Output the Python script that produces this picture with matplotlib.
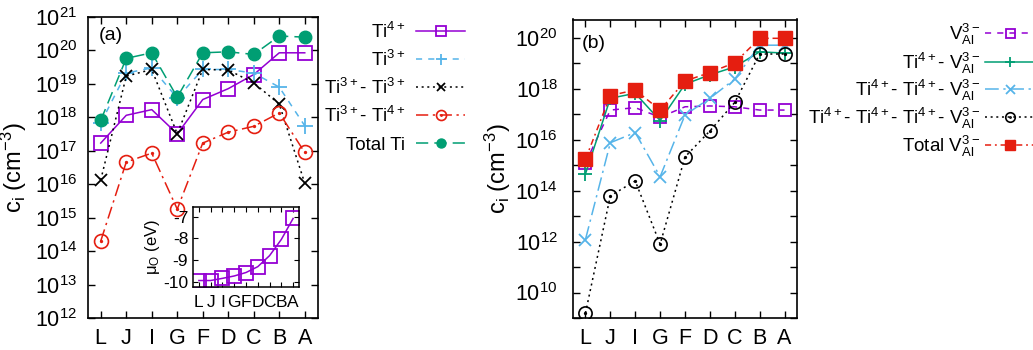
import matplotlib
matplotlib.use('Agg')
import matplotlib.pyplot as plt
import numpy as np
from matplotlib.lines import Line2D
from matplotlib.path import Path
from matplotlib.ticker import NullFormatter

plt.rcParams['font.family'] = ['Liberation Sans', 'DejaVu Sans']
plt.rcParams['mathtext.fontset'] = 'custom'
plt.rcParams['mathtext.rm'] = 'Liberation Sans'
plt.rcParams['mathtext.it'] = 'Liberation Sans:italic'
plt.rcParams['mathtext.default'] = 'regular'

# oxygen chemical potential points, left to right
points = ['L', 'J', 'I', 'G', 'F', 'D', 'C', 'B', 'A']
mu_O = [-9.95, -9.95, -9.85, -9.74, -9.58, -9.31, -8.80, -8.05, -7.08]

# (a) Ti concentrations (cm^-3)
ti4 = [1.7e17, 1.15e18, 1.7e18, 3.2e17, 3.4e18, 7.2e18, 1.9e19, 8.5e19, 8.5e19]
ti3 = [6.8e17, 2.1e19, 3.0e19, 3.8e18, 2.7e19, 2.7e19, 2.1e19, 8.0e18, 5.6e17]
ti3_ti3 = [1.35e16, 1.7e19, 2.7e19, 3.2e17, 2.7e19, 2.6e19, 1.07e19, 2.5e18, 1.07e16]
ti3_ti4 = [2.0e14, 4.6e16, 8.5e16, 1.8e15, 1.7e17, 3.6e17, 5.4e17, 1.35e18, 8.9e16]
ti_total = [8.1e17, 5.8e19, 8.5e19, 4.0e18, 8.5e19, 9.1e19, 7.6e19, 2.7e20, 2.5e20]

# (b) V_Al concentrations (cm^-3)
v_al = [1.2e15, 1.45e17, 1.8e17, 7.6e16, 1.95e17, 2.1e17, 1.95e17, 1.45e17, 1.45e17]
ti4_v = [4.5e14, 4.2e17, 6.6e17, 5.6e16, 1.5e18, 3.5e18, 7.2e18, 2.8e19, 2.5e19]
ti44_v = [1.2e12, 7.6e15, 1.9e16, 3.5e14, 9.3e16, 4.2e17, 2.4e18, 5.1e19, 5.1e19]
ti444_v = [1.55e9, 6.2e13, 2.4e14, 7.9e11, 2.1e15, 2.2e16, 2.9e17, 2.3e19, 2.3e19]
v_total = [1.7e15, 5.4e17, 8.9e17, 1.45e17, 2.0e18, 4.3e18, 1.05e19, 9.5e19, 9.5e19]

purple = '#9400d3'
blue = '#56b4e9'
green = '#009e73'
red = '#e51e10'

# open circle with a dot in the middle
circ_dot = Path.make_compound_path(Path.unit_circle(), Path.circle((0, 0), 0.12))

x = np.arange(len(points))

fig = plt.figure(figsize=(10.33, 3.5), dpi=100)
W, H = 1033.0, 350.0
ax1 = fig.add_axes([88 / W, 1 - 318 / H, 229.5 / W, 301 / H])
ax2 = fig.add_axes([573 / W, 1 - 318 / H, 224 / W, 298.5 / H])
axin = fig.add_axes([193 / W, 1 - 287 / H, 106 / W, 80 / H])


def style_axis(ax):
    ax.set_yscale('log')
    ax.set_xlim(-0.5, 8.5)
    ax.set_xticks(x)
    ax.set_xticklabels(points)
    ax.tick_params(which='both', direction='in', top=True, right=True,
                   length=5, width=1, labelsize=15.5)
    ax.tick_params(axis='x', pad=7)
    for s in ax.spines.values():
        s.set_linewidth(1.2)


lw = 1.1
# --- panel (a)
h_a = []
h_a += ax1.plot(x, ti4, color=purple, lw=lw, marker='s', ms=10, mfc='none',
                mew=1.3, label=r'Ti$^{4+}$')
h_a += ax1.plot(x, ti3, color=blue, lw=lw, dashes=(4, 4), marker='+', ms=11,
                mew=1.3, label=r'Ti$^{3+}$')
h_a += ax1.plot(x, ti3_ti3, color='black', lw=lw, dashes=(1.3, 2.4), marker='x',
                ms=8.5, mew=1.3, label=r'Ti$^{3+}$- Ti$^{3+}$')
h_a += ax1.plot(x, ti3_ti4, color=red, lw=lw, dashes=(8, 3, 1.5, 3), marker=circ_dot,
                ms=10, mfc='none', mew=1.2, label=r'Ti$^{3+}$- Ti$^{4+}$')
h_a += ax1.plot(x, ti_total, color=green, lw=lw, dashes=(8, 4), marker='o', ms=9,
                label='Total Ti')

style_axis(ax1)
ax1.set_ylim(1e12, 1e21)
ax1.set_yticks([10.0 ** k for k in range(12, 22)])
ax1.minorticks_off()
ax1.tick_params(axis='y', pad=8)
ax1.set_ylabel(r'c$_i$ (cm$^{-3}$)', fontsize=17, labelpad=4)
ax1.text(0.045, 0.94, '(a)', transform=ax1.transAxes, fontsize=14, va='center')

# inset: oxygen chemical potential
axin.plot(x, mu_O, color=purple, lw=lw, marker='s', ms=10, mfc='none', mew=1.3)
axin.set_xlim(-0.5, 8.5)
axin.set_ylim(-10.25, -6.55)
axin.set_xticks(x)
axin.set_xticklabels(points)
axin.set_yticks([-7, -8, -9, -10])
axin.set_yticklabels(['-7', '-8', '-9', '-10'])
axin.tick_params(direction='in', top=True, right=True, length=3.5, labelsize=12.5)
axin.tick_params(axis='x', pad=6)
for s in axin.spines.values():
    s.set_linewidth(1.1)
axin.set_ylabel(r'$\mu_O$ (eV)', fontsize=12, labelpad=1)
axin.patch.set_facecolor('white')

# --- panel (b)
h_b = []
h_b += ax2.plot(x, v_al, color=purple, lw=lw, dashes=(4, 4), marker='s', ms=9,
                mfc='none', mew=1.3, label=r'$V_{Al}^{3-}$')
h_b += ax2.plot(x, ti4_v, color=green, lw=lw, marker='+', ms=10, mew=1.3,
                label=r'Ti$^{4+}$- $V_{Al}^{3-}$')
h_b += ax2.plot(x, ti44_v, color=blue, lw=lw, dashes=(9, 3, 1.5, 3), marker='x',
                ms=9, mew=1.3, label=r'Ti$^{4+}$- Ti$^{4+}$- $V_{Al}^{3-}$')
h_b += ax2.plot(x, ti444_v, color='black', lw=lw, dashes=(1.3, 2.4), marker=circ_dot,
                ms=9.5, mfc='none', mew=1.2,
                label=r'Ti$^{4+}$- Ti$^{4+}$- Ti$^{4+}$- $V_{Al}^{3-}$')
h_b += ax2.plot(x, v_total, color=red, lw=lw, dashes=(4, 2.5, 1.2, 2.5), marker='s',
                ms=10, label=r'Total $V_{Al}^{3-}$')

style_axis(ax2)
ax2.set_ylim(1e9, 5.2e20)
ax2.set_yticks([10.0 ** k for k in range(10, 21, 2)])
ax2.set_yticks([10.0 ** k for k in range(9, 21, 2)], minor=True)
ax2.yaxis.set_minor_formatter(NullFormatter())
ax2.tick_params(axis='y', pad=11)
ax2.set_ylabel(r'c$_i$ (cm$^{-3}$)', fontsize=17, labelpad=2)
ax2.text(0.04, 0.92, '(b)', transform=ax2.transAxes, fontsize=14, va='center')


# legends drawn in figure pixels, text right-aligned next to the sample line
def draw_key(handles, x_text, x0, x1, rows, fs):
    for h, yp in zip(handles, rows):
        y = 1 - yp / H
        fig.text(x_text / W, 1 - (yp + 0.36 * fs * 100 / 72) / H, h.get_label(),
                 ha='right', va='baseline', fontsize=fs)
        key = Line2D([x0 / W, (x0 + x1) / 2 / W, x1 / W], [y, y, y])
        key.update_from(h)
        key.set_transform(fig.transFigure)
        key.set_clip_on(False)
        key.set_markevery([1])
        key.set_markersize(h.get_markersize() * 0.72)
        fig.add_artist(key)


draw_key(h_a, 405, 416, 465, [31, 59, 87, 115, 143], 13.5)
draw_key(h_b, 980, 985, 1034, [33, 62, 89, 117, 145], 13.5)

fig.savefig('out.png', dpi=100)
